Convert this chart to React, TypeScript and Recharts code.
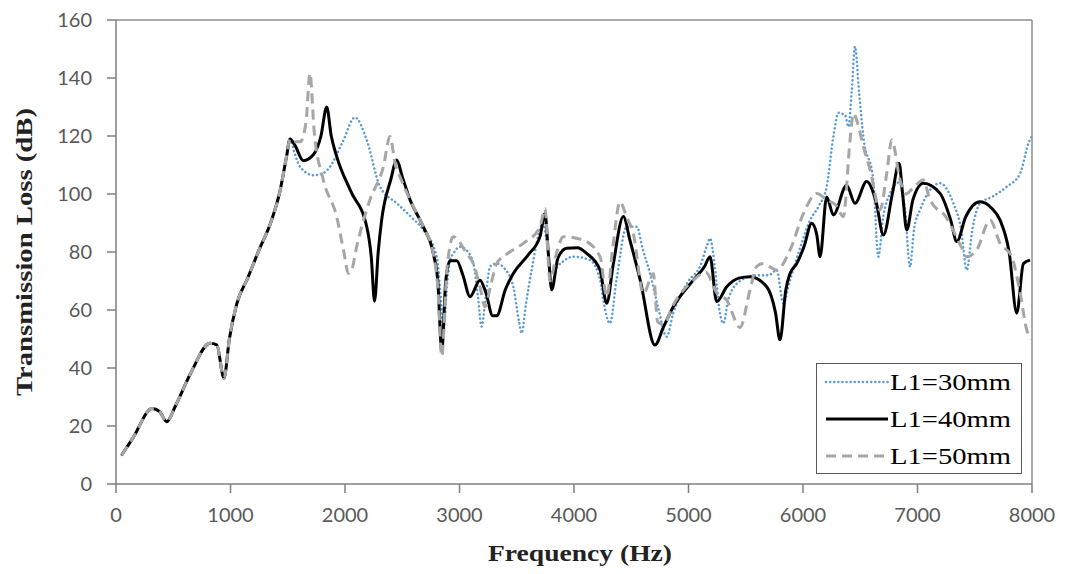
import React from "react";
import { LineChart, Line, XAxis, YAxis, ReferenceLine, Legend } from "recharts";

// Frequency (Hz) and transmission loss (dB) for each length L1
const freq30 = [50,150,314,380,443,520,650,821,880,943,990,1054,1150,1258,1350,1432,1490,1520,1560,1607,1723,1800,1869,1980,2087,2190,2306,2452,2580,2684,2801,2835,2859,2890,2917,2946,3004,3063,3121,3160,3193,3230,3267,3325,3400,3470,3520,3543,3580,3630,3732,3760,3800,3880,3994,4140,4230,4256,4314,4370,4460,4548,4600,4664,4740,4809,4867,5000,5100,5160,5188,5230,5270,5304,5350,5450,5600,5700,5770,5828,5887,5980,6062,6140,6207,6265,6310,6370,6396,6425,6454,6490,6527,6614,6658,6700,6760,6840,6890,6935,6970,7022,7197,7313,7380,7430,7480,7546,7650,7779,7896,7969,8000];
const tl30 = [10,16,26,25,21.5,27,38,48.5,48,36.5,50,62,71,81.5,90,101,113,119,114,109.4,106.5,107,109.4,118,126.4,118.6,102.5,96.8,92,87.6,78.4,65,52,68,77.2,79.5,81.8,80.5,76,65,54.3,65,75,76,74,68,56,52,62,73.8,89.9,84,73,76,78.4,77.2,70,63.4,55.4,70,88.7,88.7,81,72.6,60,50.8,58.9,70,75,82,84.7,75,60,55.4,64,70,72,72,73.8,62.3,70.3,82,91,96,102.5,119.8,128,127,123.2,135,150.8,135,119.8,104.8,78.4,92,100.2,104,95,74.9,88,94.5,103.7,96.8,88,73.8,88,96.8,99,102.5,107,117.5,120];

const freq40 = [50,150,314,380,443,520,650,821,880,943,990,1054,1150,1258,1350,1432,1490,1520,1560,1636,1723,1790,1840,1880,1927,2050,2190,2230,2258,2290,2320,2400,2452,2500,2568,2680,2771,2810,2845,2880,2917,2976,3030,3092,3179,3230,3290,3325,3400,3470,3600,3703,3747,3775,3805,3860,3936,4030,4111,4227,4286,4340,4431,4489,4580,4707,4780,4867,5042,5140,5188,5246,5334,5440,5537,5683,5760,5799,5850,5887,5945,6010,6076,6120,6149,6207,6265,6381,6454,6556,6640,6702,6780,6839,6870,6906,6960,7051,7197,7290,7343,7420,7546,7650,7721,7800,7867,7925,7983];
const tl40 = [10,16,26,25,21.5,27,38,48.5,48,36.5,50,62,71,81.5,90,101,113,119,117,111.5,113.5,120,130,120,113,101,88.7,78,63,80,91,105,111.7,106,98,89,79.5,70,46,70,77,77,72,64.6,70.3,66,58,58,67,72.6,79,85.3,93.3,80,67,78,81.3,81.5,79.5,73.8,62.3,75,92.2,84,70,47.9,54,61.1,70.3,75,78.4,62.9,68,71,71.5,68,59,49.7,67,72.6,76,82,89.9,86,78.4,99,92.8,103,96.8,104.3,97,85.9,100,110.6,100,87.6,98,103.7,100.2,91,83.6,92,97.3,95,91,80,58.9,76,77.2];

const freq50 = [50,150,314,380,443,520,650,821,880,943,990,1054,1150,1258,1350,1432,1490,1520,1560,1610,1660,1694,1730,1811,1927,1990,2029,2060,2102,2218,2335,2393,2440,2480,2568,2680,2771,2810,2845,2890,2946,3063,3121,3179,3223,3270,3325,3440,3558,3703,3747,3790,3850,3907,4082,4227,4286,4340,4402,4460,4518,4606,4693,4730,4780,4870,5042,5150,5246,5334,5450,5537,5595,5650,5770,5887,6004,6120,6207,6290,6352,6411,6440,6480,6527,6586,6673,6731,6775,6848,6900,6960,7051,7109,7250,7380,7430,7517,7634,7721,7823,7900,7954,8000];
const tl50 = [10,16,26,25,21.5,27,38,48.5,48,36.5,50,62,71,81.5,90,101,113,119,118,118,125,141.6,122,104.8,92.2,80,72.6,74,81.8,98,109.4,119.8,110,106,98,89,79.5,68,44,74,85.3,79.5,76,68,61.1,68,76,80,83,88.7,95,70,80,85.3,84.1,78.4,64.6,82,97.3,92,86.4,65.7,72.6,56,55,62,70.3,73,66,63.4,54,66.9,75,76,73.8,80.7,93.3,100.2,98,96,92.2,118.6,127.8,124,116.3,108.3,94.5,107,118.6,104.8,100,102,104.8,98,92,82,78.4,80.7,91,83,78.4,65,53.1,50];

const xTicks = [0,1000,2000,3000,4000,5000,6000,7000,8000];
const yTicks = [0,20,40,60,80,100,120,140,160];
const seriesNames = ["L1=30mm", "L1=40mm", "L1=50mm"];

const toData = (f: number[], v: number[]) => f.map((x, i) => ({ f: x, v: v[i] }));
const data30 = toData(freq30, tl30);
const data40 = toData(freq40, tl40);
const data50 = toData(freq50, tl50);

const styles = [
  { stroke: "#5b9bd5", width: 2.5, dash: "0.1 4", cap: "round" as const },
  { stroke: "#000000", width: 3, dash: undefined, cap: "butt" as const },
  { stroke: "#a6a6a6", width: 3, dash: "10 6", cap: "butt" as const },
];

const tickFont = "Lato, 'Open Sans', sans-serif";

const XTick = (props: any) => {
  const { x, y, payload } = props;
  const s = String(payload.value);
  return (
    <text x={x} y={y} dy="0.71em" textAnchor="middle" fontFamily={tickFont} fontSize={20} fill="#595959">
      {s}
    </text>
  );
};

const YTick = (props: any) => {
  const { x, y, payload } = props;
  const s = String(payload.value);
  return (
    <text x={x} y={y} dy="0.35em" textAnchor="end" fontFamily={tickFont} fontSize={20} fill="#595959">
      {s}
    </text>
  );
};

const renderLegend = () => (
  <div style={{ width: 206, height: 111, border: "1.5px solid #595959", boxSizing: "border-box", background: "#fff" }}>
    <svg width={203} height={108}>
      {seriesNames.map((name, i) => {
        const cy = 18 + i * 37;
        const st = styles[i];
        return (
          <g key={name}>
            <line x1={9} x2={71} y1={cy} y2={cy} stroke={st.stroke} strokeWidth={st.width} strokeDasharray={st.dash} strokeLinecap={st.cap} />
            <text x={73} y={cy} dy="0.35em" fontFamily="'Liberation Serif', 'Times New Roman', serif" fontSize={24} fill="#000" textLength={121} lengthAdjust="spacingAndGlyphs">
              {name}
            </text>
          </g>
        );
      })}
    </svg>
  </div>
);

export default function App() {
  return (
    <div style={{ position: "absolute", left: 0, top: 0, width: 1065, height: 574, background: "#fff" }}>
      <LineChart width={1065} height={574} margin={{ top: 20, right: 33, bottom: 0, left: 0 }}>
        <XAxis
          dataKey="f"
          type="number"
          domain={[0, 8000]}
          ticks={xTicks}
          allowDataOverflow
          stroke="#7f7f7f"
          strokeWidth={1.5}
          tickSize={9}
          tickMargin={15}
          tick={<XTick />}
          height={90}
          label={{
            content: (p: any) => {
              const vb = p.viewBox;
              return (
                <text x={vb.x + vb.width / 2 + 6} y={vb.y + 69} dy="0.35em" textAnchor="middle" fontFamily="'Liberation Serif', 'Times New Roman', serif" fontWeight="bold" fontSize={24} fill="#222" textLength={184} lengthAdjust="spacingAndGlyphs">
                  Frequency (Hz)
                </text>
              );
            },
          }}
        />
        <YAxis
          type="number"
          domain={[0, 160]}
          ticks={yTicks}
          allowDataOverflow
          stroke="#7f7f7f"
          strokeWidth={1.5}
          tickSize={9}
          tickMargin={15}
          tick={<YTick />}
          width={116}
          label={{
            content: (p: any) => {
              const vb = p.viewBox;
              const cx = vb.x + 24;
              const cy = vb.y + vb.height / 2;
              return (
                <text x={cx} y={cy} dy="0.35em" textAnchor="middle" transform={`rotate(-90 ${cx} ${cy})`} fontFamily="'Liberation Serif', 'Times New Roman', serif" fontWeight="bold" fontSize={24} fill="#222" textLength={288} lengthAdjust="spacingAndGlyphs">
                  Transmission Loss (dB)
                </text>
              );
            },
          }}
        />
        <ReferenceLine y={160} stroke="#8c8c8c" strokeWidth={1.5} ifOverflow="visible" />
        <ReferenceLine x={8000} stroke="#8c8c8c" strokeWidth={1.5} ifOverflow="visible" />
        <Line data={data30} dataKey="v" name={seriesNames[0]} type="monotone" stroke={styles[0].stroke} strokeWidth={styles[0].width} strokeDasharray={styles[0].dash} strokeLinecap="round" dot={false} activeDot={false} isAnimationActive={false} />
        <Line data={data40} dataKey="v" name={seriesNames[1]} type="monotone" stroke={styles[1].stroke} strokeWidth={styles[1].width} dot={false} activeDot={false} isAnimationActive={false} />
        <Line data={data50} dataKey="v" name={seriesNames[2]} type="monotone" stroke={styles[2].stroke} strokeWidth={styles[2].width} strokeDasharray={styles[2].dash} dot={false} activeDot={false} isAnimationActive={false} />
        <Legend
          layout="vertical"
          align="center"
          verticalAlign="middle"
          content={renderLegend}
          wrapperStyle={{ position: "absolute", left: 816, top: 363, width: 206, height: 111 }}
        />
      </LineChart>
    </div>
  );
}
